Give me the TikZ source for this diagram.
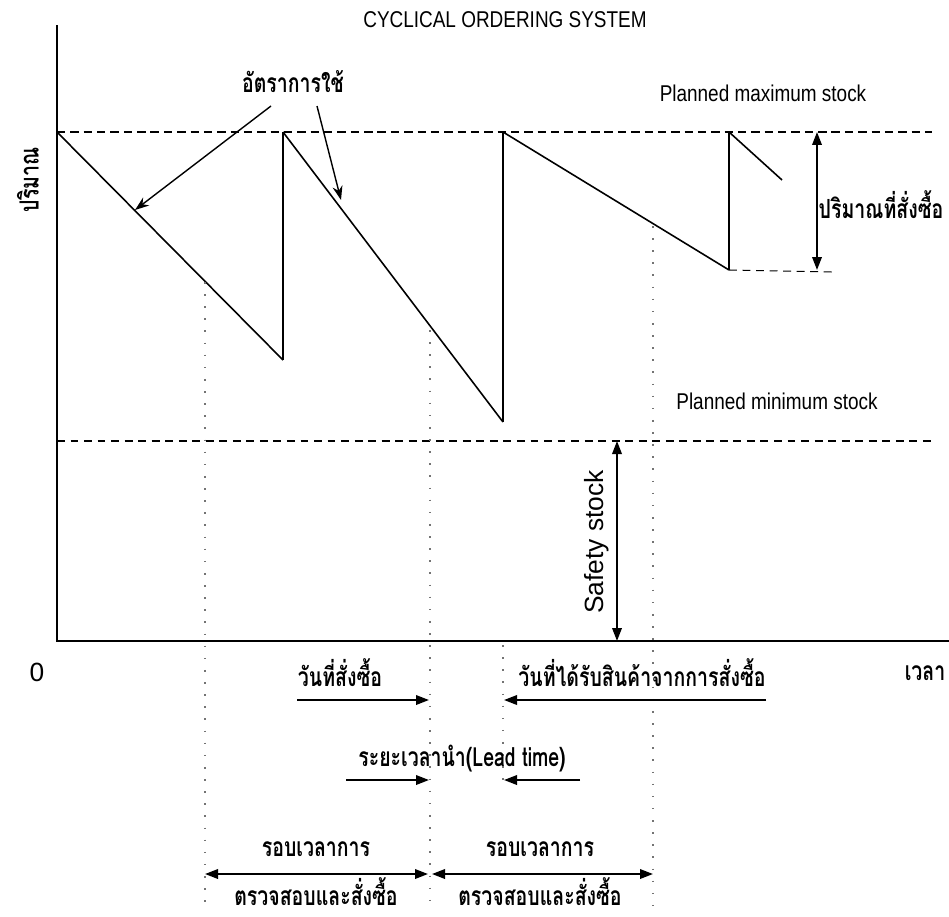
\documentclass[tikz,border=0pt]{standalone}
\usepackage{fontspec}
\setmainfont{Liberation Sans}
\newfontfamily\condfont[FakeStretch=0.83]{Liberation Sans}
\newfontfamily\thaifont[Script=Thai,FakeStretch=0.74]{Loma}
\usetikzlibrary{arrows.meta, positioning}
\tikzset{
  >=Stealth,
  axisline/.style={line width=1.4pt, black},
  maxline/.style={line width=1.4pt, dash pattern=on 4.8pt off 2.8pt},
  minline/.style={line width=0.6pt, dash pattern=on 4.5pt off 3.2pt},
  guide/.style={line width=1pt, black!55, dash pattern=on 0.9pt off 6pt},
  sawline/.style={line width=0.9pt},
  refill/.style={line width=1.2pt},
  dimarrow/.style={{Triangle[length=2.6mm, width=1.9mm]}-{Triangle[length=2.6mm, width=1.9mm]}, line width=1.1pt},
  tiparrow/.style={-{Triangle[length=2.6mm, width=1.9mm]}, line width=1.1pt},
  ratearrow/.style={-{Stealth[length=2.8mm, width=2mm]}, line width=0.8pt},
  condlbl/.style={font=\condfont\fontsize{13}{15}\selectfont, inner sep=0pt},
  thailbl/.style={font=\thaifont\bfseries\fontsize{15}{17}\selectfont, inner sep=0pt},
  plainlbl/.style={font=\fontsize{15}{17}\selectfont, inner sep=0pt}
}
\begin{document}
\begin{tikzpicture}[x=0.02cm, y=-0.02cm]
    \useasboundingbox (0,0) rectangle (949,916);
    % axes
    \coordinate (ytop) at (57,25);
    \coordinate (origin) at (57,641);
    \coordinate (xend) at (949,641);
    \draw[axisline] (ytop) -- (origin) -- (xend);
    % stock levels
    \coordinate (maxL) at (57,132);
    \coordinate (maxR) at (932,132);
    \coordinate (minL) at (57,441);
    \coordinate (minR) at (932,441);
    \draw[maxline] (maxL) -- (maxR);
    \draw[minline] (minL) -- (minR);
    % sawtooth
    \coordinate (s0) at (57,132);
    \coordinate (s1) at (283,360);
    \coordinate (s2) at (283,132);
    \coordinate (s3) at (503,422);
    \coordinate (s4) at (503,132);
    \coordinate (s5) at (729,270);
    \coordinate (s6) at (729,132);
    \coordinate (s7) at (782,180);
    \draw[sawline] (s0) -- (s1);
    \draw[refill] (s1) -- (s2);
    \draw[sawline] (s2) -- (s3);
    \draw[refill] (s3) -- (s4);
    \draw[sawline] (s4) -- (s5);
    \draw[refill] (s5) -- (s6);
    \draw[sawline] (s6) -- (s7);
    \coordinate (lowR) at (833,272);
    \draw[minline] (s5) -- (lowR);
    % guide lines
    \coordinate (g1a) at (205,282);
    \coordinate (g1b) at (205,908);
    \coordinate (g2a) at (430,330);
    \coordinate (g2b) at (430,908);
    \coordinate (g3a) at (503,645);
    \coordinate (g3b) at (503,790);
    \coordinate (g4a) at (653,226);
    \coordinate (g4b) at (653,908);
    \draw[guide] (g1a) -- (g1b);
    \draw[guide] (g2a) -- (g2b);
    \draw[guide] (g3a) -- (g3b);
    \draw[guide] (g4a) -- (g4b);
    % quantities
    \coordinate (oqTop) at (817,132);
    \coordinate (oqBot) at (817,270);
    \draw[dimarrow] (oqTop) -- (oqBot);
    \coordinate (ssTop) at (617,441);
    \coordinate (ssBot) at (617,641);
    \draw[dimarrow] (ssTop) -- (ssBot);
    % labels
    \node (title) [condlbl] at (505,20) {CYCLICAL ORDERING SYSTEM};
    \node (maxlbl) [condlbl] at (763,93) {Planned maximum stock};
    \node (minlbl) [condlbl] at (777,401) {Planned minimum stock};
    \node (sslbl) [plainlbl, rotate=90] at (597,542) {Safety stock};
    \node (zero) [plainlbl] at (37,672) {0};
    \node (ylbl) [thailbl, rotate=90] at (28,180) {ปริมาณ};
    \node (xlbl) [thailbl] at (925,673) {เวลา};
    \node (oqlbl) [thailbl] at (881,205) {ปริมาณที่สั่งซื้อ};
    \node (rate) [thailbl] at (293,82) {อัตราการใช้};
    \coordinate (rateL) at (271,106);
    \coordinate (rateR) at (317,106);
    \coordinate (hitA) at (135,210);
    \coordinate (hitB) at (341,200);
    \draw[ratearrow] (rateL) -- (hitA);
    \draw[ratearrow] (rateR) -- (hitB);
    % timeline below the axis
    \node (orderday) [thailbl] at (340,673) {วันที่สั่งซื้อ};
    \node (receiveday) [thailbl] at (642,673) {วันที่ได้รับสินค้าจากการสั่งซื้อ};
    \coordinate (od1) at (297,700);
    \coordinate (od2) at (429,700);
    \coordinate (rd1) at (766,700);
    \coordinate (rd2) at (504,700);
    \draw[tiparrow] (od1) -- (od2);
    \draw[tiparrow] (rd1) -- (rd2);
    \node (lead) [thailbl] at (462,759) {ระยะเวลานำ(Lead time)};
    \coordinate (lt1) at (346,780);
    \coordinate (lt2) at (429,780);
    \coordinate (lt3) at (580,780);
    \coordinate (lt4) at (504,780);
    \draw[tiparrow] (lt1) -- (lt2);
    \draw[tiparrow] (lt3) -- (lt4);
    \coordinate (cyA) at (205,874);
    \coordinate (cyB) at (428,874);
    \coordinate (cyC) at (432,874);
    \coordinate (cyD) at (653,874);
    \draw[dimarrow] (cyA) -- (cyB);
    \draw[dimarrow] (cyC) -- (cyD);
    \node (cyc1a) [thailbl] at (316,849) {รอบเวลาการ};
    \node (cyc1b) [thailbl] at (316,892) {ตรวจสอบและสั่งซื้อ};
    \node (cyc2a) [thailbl] at (540,849) {รอบเวลาการ};
    \node (cyc2b) [thailbl] at (540,892) {ตรวจสอบและสั่งซื้อ};
\end{tikzpicture}
\end{document}
